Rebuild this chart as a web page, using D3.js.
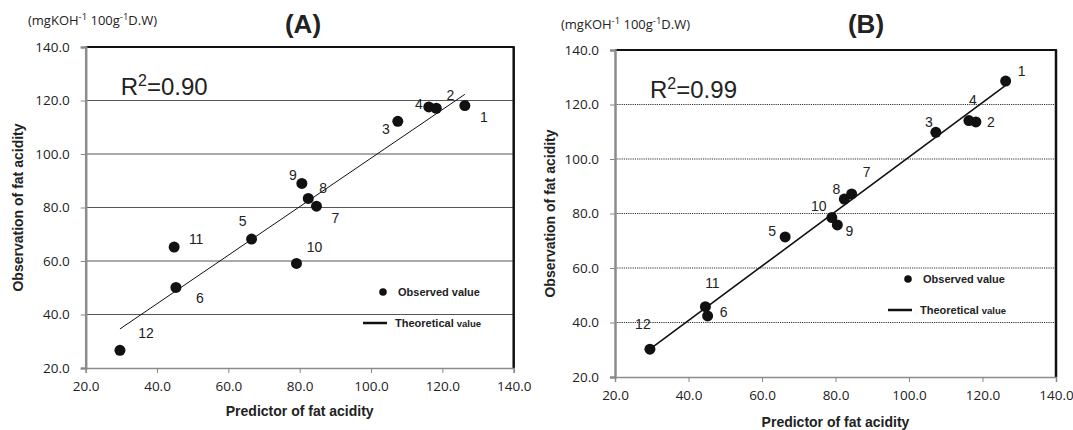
<!DOCTYPE html>
<html>
<head>
<meta charset="utf-8">
<script src="https://cdn.jsdelivr.net/npm/d3@7"></script>
<style>
  body { margin: 0; background: #fff; }
  text { fill: #222; }
</style>
</head>
<body>
<div id="chart"></div>
<script>
// sample numbers 1..12
var sampleIds = [1, 2, 3, 4, 5, 6, 7, 8, 9, 10, 11, 12];

// panel A: predicted vs observed fat acidity
var predA = [126.3, 118.3, 107.5, 116.2, 66.5, 45.3, 84.7, 82.4, 80.6, 79.1, 44.8, 29.6];
var obsA  = [118.1, 117.1, 112.2, 117.6, 68.2, 50.1, 80.5, 83.4, 89.0, 59.1, 65.2, 26.6];
var fitA  = [0.907, 7.75];   // slope, intercept
var r2A   = "0.90";

// panel B
var predB = [126.3, 118.2, 107.3, 116.3, 66.3, 45.2, 84.4, 82.4, 80.5, 79.0, 44.6, 29.5];
var obsB  = [128.6, 113.6, 109.8, 114.1, 71.4, 42.4, 87.2, 85.3, 75.8, 78.5, 45.8, 30.2];
var fitB  = [1.0, 0.7];
var r2B   = "0.99";

var axisTicks = [20, 40, 60, 80, 100, 120, 140];

var svg = d3.select("#chart").append("svg")
    .attr("width", 1073)
    .attr("height", 430);

// label offsets (px) so the numbers sit where they do in the figure
var offA = [[19,11],[14,-13],[-12,8],[-10,-3],[-9,-18],[24,11],[19,12],[15,-10],[-9,-8],[18,-16],[22,-8],[26,-17]];
var offB = [[16,-10],[15,0],[-7,-10],[4,-21],[-13,-6],[16,-4],[15,-22],[-8,-10],[12,6],[-13,-12],[7,-24],[-7,-25]];

function drawPanel(o) {
  var x = d3.scaleLinear().domain([20, 140]).range([o.left, o.right]);
  var y = d3.scaleLinear().domain([20, 140]).range([o.bottom, o.top]);
  var g = svg.append("g");

  // gridlines
  g.selectAll(".grid").data(axisTicks.slice(1)).enter().append("line")
      .attr("x1", o.left).attr("x2", o.right)
      .attr("y1", function(d) { return y(d); })
      .attr("y2", function(d) { return y(d); })
      .attr("stroke", o.dotted ? "#333" : "#555")
      .attr("stroke-width", 1)
      .attr("stroke-dasharray", o.dotted ? "1.2,1" : null);

  // top + right frame
  g.append("line").attr("x1", o.left).attr("x2", o.right + 1)
      .attr("y1", o.top).attr("y2", o.top)
      .attr("stroke", "#111").attr("stroke-width", 2.2);
  g.append("line").attr("x1", o.right).attr("x2", o.right)
      .attr("y1", o.top).attr("y2", o.bottom)
      .attr("stroke", "#111").attr("stroke-width", 2.5);

  // axes
  var ya = g.append("g").attr("transform", "translate(" + o.left + ",0)")
      .call(d3.axisLeft(y).tickValues(axisTicks).tickSize(5).tickPadding(11).tickFormat(d3.format(".1f")));
  var xa = g.append("g").attr("transform", "translate(0," + o.bottom + ")")
      .call(d3.axisBottom(x).tickValues(axisTicks).tickSize(5).tickPadding(8).tickFormat(d3.format(".1f")));
  [ya, xa].forEach(function(a) {
    a.selectAll("text").attr("font-family", "Open Sans, sans-serif").attr("font-size", 13.5).attr("fill", "#222");
    a.selectAll(".tick line").attr("stroke", "#888");
  });
  ya.select(".domain").attr("stroke", "#8c8c8c").attr("stroke-width", 2.5);
  xa.select(".domain").attr("stroke", "#8c8c8c").attr("stroke-width", 1.5);

  // regression line
  var xs = d3.extent(o.pred);
  g.append("line")
      .attr("x1", x(xs[0])).attr("y1", y(o.fit[0] * xs[0] + o.fit[1]))
      .attr("x2", x(xs[1])).attr("y2", y(o.fit[0] * xs[1] + o.fit[1]))
      .attr("stroke", "#111").attr("stroke-width", o.lineW);

  // points
  g.selectAll(".pt").data(sampleIds).enter().append("circle")
      .attr("cx", function(d, i) { return x(o.pred[i]); })
      .attr("cy", function(d, i) { return y(o.obs[i]); })
      .attr("r", 5.5)
      .attr("fill", "#111");

  g.selectAll(".lbl").data(sampleIds).enter().append("text")
      .attr("x", function(d, i) { return x(o.pred[i]) + o.off[i][0]; })
      .attr("y", function(d, i) { return y(o.obs[i]) + o.off[i][1]; })
      .attr("text-anchor", "middle")
      .attr("dominant-baseline", "central")
      .attr("font-family", "Liberation Sans, Arial, sans-serif")
      .attr("font-size", 14)
      .text(function(d) { return d; });

  // R^2
  var r = g.append("text").attr("x", o.left + 35).attr("y", o.top + 48)
      .attr("font-family", "Liberation Sans, Arial, sans-serif").attr("font-size", 24);
  r.append("tspan").text("R");
  r.append("tspan").attr("dy", -9).attr("font-size", 16).text("2");
  r.append("tspan").attr("dy", 9).text("=" + o.r2);

  // title
  g.append("text").attr("x", o.titleX).attr("y", 33)
      .attr("text-anchor", "middle")
      .attr("font-family", "Liberation Sans, Arial, sans-serif")
      .attr("font-size", 26).attr("font-weight", "bold")
      .text(o.title);

  // unit
  var u = g.append("text").attr("x", o.unitX).attr("y", o.unitY)
      .attr("font-family", "Open Sans, sans-serif").attr("font-size", 13);
  u.append("tspan").text("(mgKOH");
  u.append("tspan").attr("dy", -5).attr("font-size", 9.5).text("-1");
  u.append("tspan").attr("dy", 5).text(" 100g");
  u.append("tspan").attr("dy", -5).attr("font-size", 9.5).text("-1");
  u.append("tspan").attr("dy", 5).text("D.W)");

  // axis titles
  g.append("text").attr("x", (o.left + o.right) / 2).attr("y", o.xTitleY)
      .attr("text-anchor", "middle")
      .attr("font-family", "Liberation Sans, Arial, sans-serif")
      .attr("font-size", 14).attr("font-weight", "bold")
      .text("Predictor of fat acidity");
  g.append("text")
      .attr("transform", "translate(" + o.yTitleX + "," + (o.top + o.bottom) / 2 + ") rotate(-90)")
      .attr("text-anchor", "middle")
      .attr("font-family", "Liberation Sans, Arial, sans-serif")
      .attr("font-size", 14).attr("font-weight", "bold")
      .text("Observation of fat acidity");

  // legend
  g.append("circle").attr("cx", o.legX).attr("cy", o.legY).attr("r", 3.8).attr("fill", "#111");
  g.append("text").attr("x", o.legX + 15).attr("y", o.legY + 4)
      .attr("font-family", "Liberation Sans, Arial, sans-serif")
      .attr("font-size", 11).attr("font-weight", "bold")
      .text("Observed value");
  g.append("line").attr("x1", o.legX - 20).attr("x2", o.legX + 4)
      .attr("y1", o.legY + 31).attr("y2", o.legY + 31)
      .attr("stroke", "#111").attr("stroke-width", 2.5);
  var lt = g.append("text").attr("x", o.legX + 12).attr("y", o.legY + 35)
      .attr("font-family", "Liberation Sans, Arial, sans-serif")
      .attr("font-weight", "bold").attr("font-size", 11);
  lt.append("tspan").text("Theoretical ");
  lt.append("tspan").attr("font-size", 9.5).text("value");
}

drawPanel({
  pred: predA, obs: obsA, fit: fitA, r2: r2A, off: offA, title: "(A)",
  left: 85.7, right: 513.7, top: 47, bottom: 368, dotted: false, lineW: 1,
  titleX: 303, unitX: 28, unitY: 25, xTitleY: 416, yTitleX: 23,
  legX: 383, legY: 292
});

drawPanel({
  pred: predB, obs: obsB, fit: fitB, r2: r2B, off: offB, title: "(B)",
  left: 615, right: 1056, top: 50, bottom: 377, dotted: true, lineW: 1.6,
  titleX: 866, unitX: 561, unitY: 29, xTitleY: 427, yTitleX: 555,
  legX: 908, legY: 279
});
</script>
</body>
</html>
